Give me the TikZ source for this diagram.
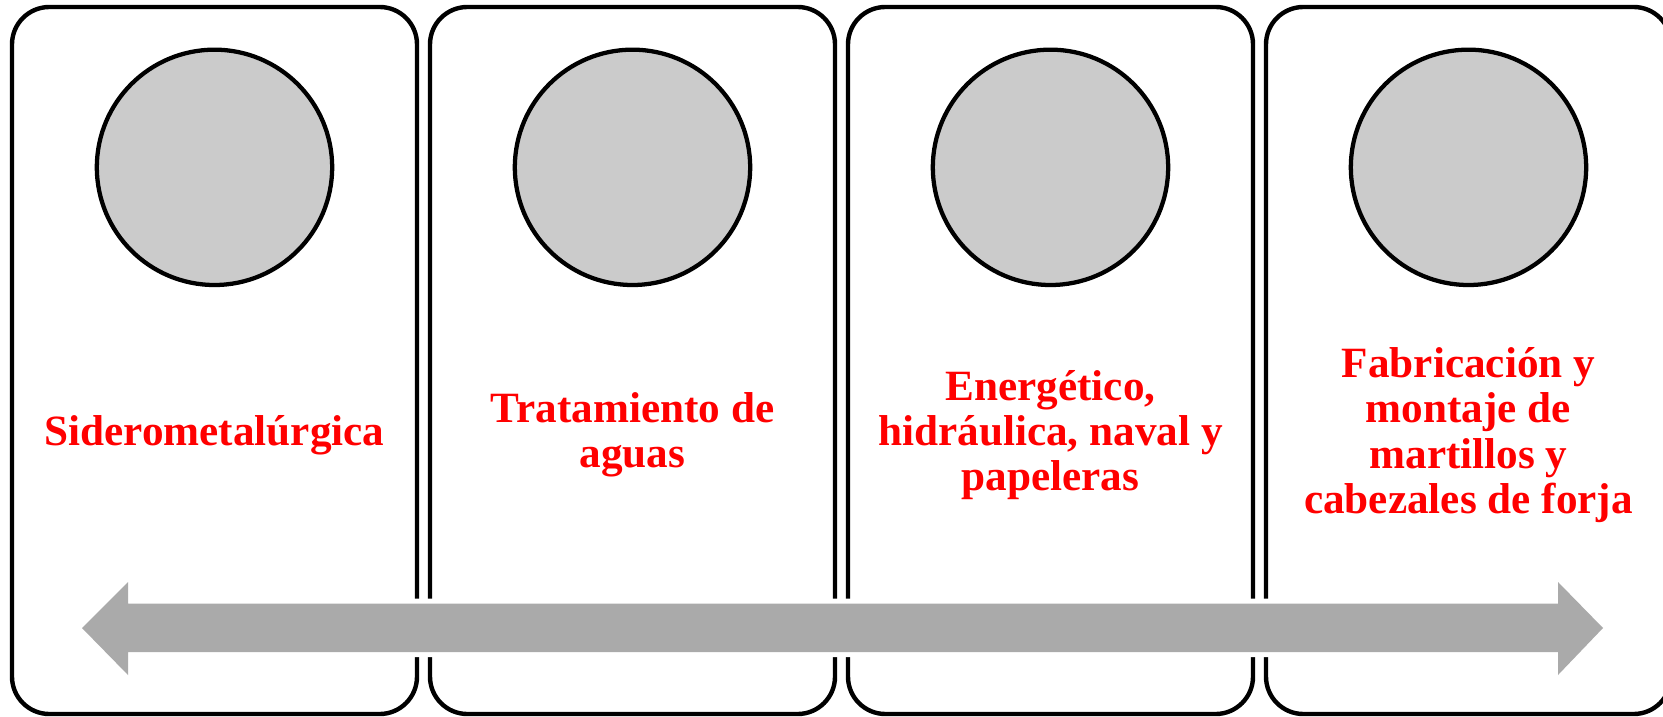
\documentclass[tikz,border=0pt]{standalone}
\usepackage{fontspec}
\setmainfont{Liberation Serif}
\usetikzlibrary{positioning}
\definecolor{203_203_203}{RGB}{203, 203, 203}
\definecolor{170_170_170}{RGB}{170, 170, 170}
\definecolor{255_0_0}{RGB}{255, 0, 0}
\definecolor{black}{RGB}{0, 0, 0}
\definecolor{white}{RGB}{255, 255, 255}

\begin{document}
\begin{tikzpicture}[
        x=0.75pt,
        y=-0.75pt,
        panel/.style={
            draw=black,
            line width=3.3pt,
            rounded corners=28pt,
            minimum width=303.75pt,
            minimum height=530.25pt,
            inner sep=0pt,
            outer sep=0pt
        },
        disc/.style={
            circle,
            draw=black,
            fill=203_203_203,
            line width=3.2pt,
            minimum size=176.5pt,
            inner sep=0pt,
            outer sep=0pt
        },
        sector/.style={
            text=255_0_0,
            align=center,
            font=\fontsize{32.4}{33.9}\selectfont\bfseries
        }
    ]
    \useasboundingbox (0,0) rectangle (1663,717);

    % the four panels
    \node[panel] (box1) at (214.5,360.5) {};
    \node[panel, right=9.75pt of box1] (box2) {};
    \node[panel, right=9.75pt of box2] (box3) {};
    \node[panel, right=9.75pt of box3] (box4) {};

    \node[disc, below=32pt of box1.north] (disc1) {};
    \node[disc, below=32pt of box2.north] (disc2) {};
    \node[disc, below=32pt of box3.north] (disc3) {};
    \node[disc, below=32pt of box4.north] (disc4) {};

    \node[sector] (name1) at ([yshift=-56pt]box1.center) {Siderometalúrgica};
    \node[sector] (name2) at ([yshift=-56pt]box2.center) {Tratamiento de\\aguas};
    \node[sector] (name3) at ([yshift=-56pt]box3.center) {Energético,\\hidráulica, naval y\\papeleras};
    \node[sector] (name4) at ([yshift=-56pt]box4.center) {Fabricación y\\montaje de\\martillos y\\cabezales de forja};

    % double arrow across the panels
    \coordinate (tipL) at (82,628);
    \coordinate (tipR) at (1603,628);
    \coordinate (headLt) at (128,582);
    \coordinate (headLb) at (128,675);
    \coordinate (headRt) at (1558,582);
    \coordinate (headRb) at (1558,675);
    \coordinate (barLt) at (128,603.5);
    \coordinate (barLb) at (128,652);
    \coordinate (barRt) at (1558,603.5);
    \coordinate (barRb) at (1558,652);
    \fill[170_170_170, preaction={draw=white, line width=7.5pt, line join=miter}]
        (tipL) -- (headLt) -- (barLt) -- (barRt) -- (headRt) -- (tipR)
        -- (headRb) -- (barRb) -- (barLb) -- (headLb) -- cycle;
\end{tikzpicture}
\end{document}
